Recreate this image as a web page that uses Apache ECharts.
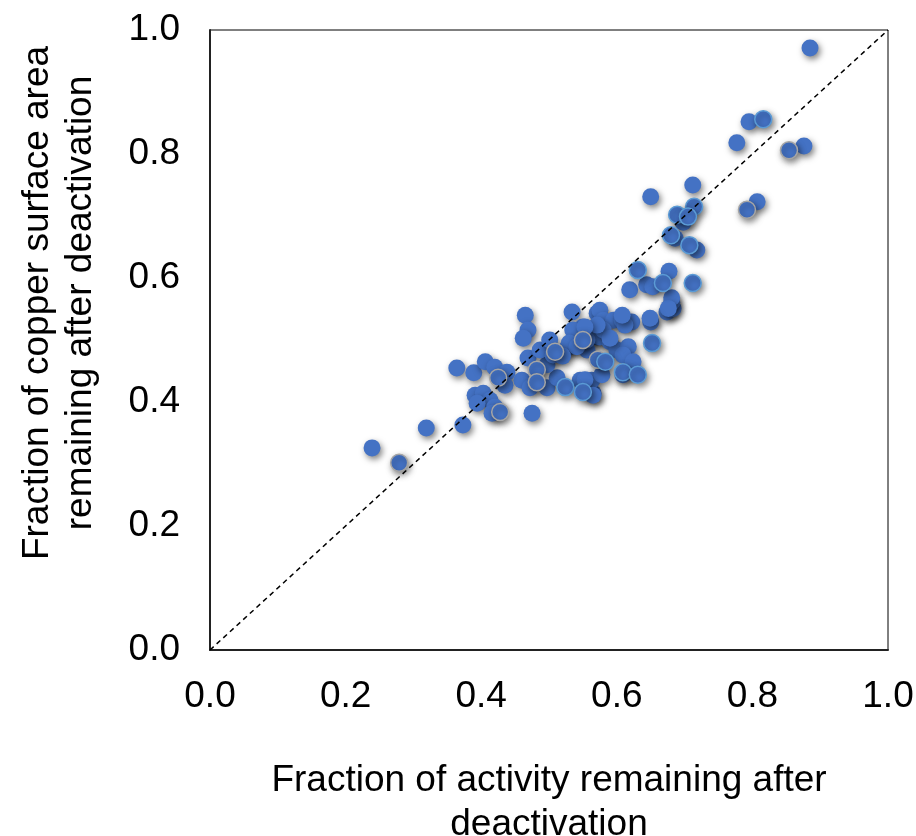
<!DOCTYPE html>
<html>
<head>
<meta charset="utf-8">
<script src="https://cdn.jsdelivr.net/npm/echarts@6/dist/echarts.min.js"></script>
<style>
  html, body { margin: 0; padding: 0; background: #fff; }
  #chart { width: 916px; height: 836px; }
</style>
</head>
<body>
<div id="chart"></div>
<script>
// Fraction of activity remaining (x) vs fraction of copper surface area remaining (y)
const activityPlain = [0.239,0.319,0.373,0.364,0.389,0.475,0.406,0.420,0.438,0.435,0.391,0.403,0.413,0.394,0.420,0.416,
  0.465,0.469,0.462,0.534,0.460,0.469,0.472,0.497,0.512,0.497,0.487,0.501,0.527,0.535,0.550,0.535,0.546,0.565,0.563,
  0.571,0.571,0.575,0.580,0.595,0.608,0.622,0.612,0.650,0.674,0.683,0.681,0.560,0.575,0.590,0.600,0.617,0.609,0.556,
  0.556,0.624,0.578,0.677,0.619,0.644,0.653,0.681,0.676,0.649,0.718,0.795,0.777,0.876,0.712,0.650,0.698,0.807,0.686,
  0.885,0.506,0.530,0.580,0.590,0.608,0.571,0.553,0.541,0.520,0.609,0.553,0.565];
const copperPlain = [0.326,0.358,0.363,0.455,0.447,0.382,0.465,0.456,0.448,0.427,0.411,0.414,0.403,0.398,0.392,0.382,
  0.540,0.516,0.503,0.545,0.435,0.471,0.423,0.423,0.439,0.460,0.484,0.500,0.487,0.495,0.521,0.516,0.435,0.414,0.435,
  0.505,0.543,0.548,0.532,0.532,0.532,0.529,0.524,0.529,0.545,0.551,0.561,0.511,0.505,0.497,0.484,0.489,0.476,0.484,
  0.500,0.465,0.444,0.611,0.581,0.589,0.586,0.568,0.551,0.535,0.645,0.852,0.818,0.813,0.750,0.731,0.690,0.723,0.664,
  0.971,0.476,0.495,0.516,0.503,0.540,0.524,0.521,0.489,0.474,0.444,0.436,0.411];

const activityGrey = [0.279,0.425,0.428,0.482,0.482,0.509,0.550,0.572,0.854,0.792];
const copperGrey   = [0.302,0.439,0.384,0.452,0.432,0.481,0.500,0.468,0.806,0.710];

const activityLight = [0.524,0.550,0.652,0.583,0.609,0.631,0.631,0.712,0.816,0.714,0.689,0.705,0.680,0.707,0.668];
const copperLight   = [0.424,0.416,0.495,0.465,0.448,0.444,0.613,0.592,0.856,0.715,0.702,0.699,0.669,0.653,0.592];

const tickStep = 0.2;
const parityLine = [[0, 0], [1, 1]];

const xAxisTitle = 'Fraction of activity remaining after\ndeactivation';
const yAxisTitle = 'Fraction of copper surface area\nremaining after deactivation';

const pairs = (xs, ys) => xs.map((x, i) => [x, ys[i]]);

const FONT = '"Liberation Sans", Arial, sans-serif';
const FS = 37;
const dotStyle = (border, bw) => ({
  color: '#4472C4',
  opacity: 1,
  borderColor: border,
  borderWidth: bw,
  shadowBlur: 6,
  shadowOffsetX: 2,
  shadowOffsetY: 3,
  shadowColor: 'rgba(0,0,0,0.5)'
});

const chart = echarts.init(document.getElementById('chart'));
chart.setOption({
  animation: false,
  backgroundColor: '#fff',
  grid: { left: 210, top: 30, width: 678, height: 620, show: true, borderColor: '#000', borderWidth: 1,
    containLabel: false, outerBoundsMode: 'none' },
  xAxis: {
    type: 'value', min: 0, max: 1, interval: tickStep,
    axisLine: { show: true, onZero: false, lineStyle: { color: '#222', width: 2 } },
    axisTick: { show: false },
    splitLine: { show: false },
    axisLabel: { color: '#000', fontFamily: FONT, fontSize: FS, margin: 28,
      formatter: v => v.toFixed(1) },
    name: xAxisTitle, nameLocation: 'middle', nameGap: 109,
    nameTextStyle: { color: '#000', fontFamily: FONT, fontSize: FS, lineHeight: 44 }
  },
  yAxis: {
    type: 'value', min: 0, max: 1, interval: tickStep,
    axisLine: { show: true, onZero: false, lineStyle: { color: '#222', width: 2 } },
    axisTick: { show: false },
    splitLine: { show: false },
    axisLabel: { color: '#000', fontFamily: FONT, fontSize: FS, margin: 30,
      formatter: v => v.toFixed(1) }
  },
  graphic: [{
    type: 'text', rotation: Math.PI / 2,
    x: 59, y: 303,
    style: { text: yAxisTitle, font: FS + 'px ' + FONT, fill: '#000', align: 'center',
      verticalAlign: 'middle', lineHeight: 43 }
  }],
  series: [
    { type: 'scatter', symbolSize: 17, data: pairs(activityPlain, copperPlain), itemStyle: dotStyle('#4472C4', 0) },
    { type: 'scatter', symbolSize: 17, data: pairs(activityGrey, copperGrey), itemStyle: dotStyle('#A5A5A5', 1.5) },
    { type: 'scatter', symbolSize: 17, data: pairs(activityLight, copperLight), itemStyle: dotStyle('#5B9BD5', 1.5) },
    { type: 'line', data: parityLine, symbol: 'none', z: 5, silent: true,
      lineStyle: { color: '#000', width: 1.5, type: [5, 4] } }
  ]
});
</script>
</body>
</html>
